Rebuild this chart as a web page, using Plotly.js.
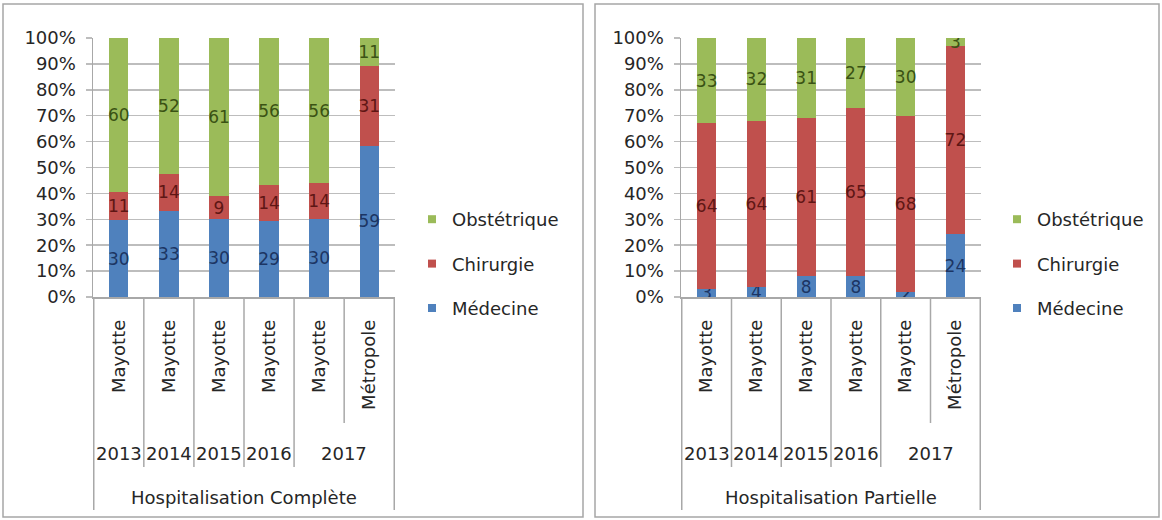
<!DOCTYPE html>
<html>
<head>
<meta charset="utf-8">
<script src="https://cdn.plot.ly/plotly-3.0.1.min.js"></script>
<style>
  html, body { margin: 0; padding: 0; background: #ffffff; }
  #chart { width: 1162px; height: 520px; }
  /* smaller square swatches in the legends */
  .legendpoints path { d: path("M4,4H-4V-4H4Z"); }
</style>
</head>
<body>
<div id="chart"></div>
<script>
// Category levels (inner: place, outer: year)
const years  = ['2013', '2014', '2015', '2016', '2017', '2017'];
const places = ['Mayotte', 'Mayotte', 'Mayotte', 'Mayotte', 'Mayotte', 'Métropole'];
const groupTitles = ['Hospitalisation Complète', 'Hospitalisation Partielle'];
const seriesNames = ['Médecine', 'Chirurgie', 'Obstétrique'];

// Hospitalisation complète (%)
const hcMedecine    = [30, 33, 30, 29, 30, 59];
const hcChirurgie   = [11, 14, 9, 14, 14, 31];
const hcObstetrique = [60, 52, 61, 56, 56, 11];

// Hospitalisation partielle (%)
const hpMedecine    = [3, 4, 8, 8, 2, 24];
const hpChirurgie   = [64, 64, 61, 65, 68, 72];
const hpObstetrique = [33, 32, 31, 27, 30, 3];

const yTickValues = [0, 10, 20, 30, 40, 50, 60, 70, 80, 90, 100];
const yTickLabels = yTickValues.map(v => v + '%');

// ---- styling ----
const FONT = 'DejaVu Sans, Liberation Sans, Arial, sans-serif';
const barColors  = ['#4f81bd', '#c0504d', '#9bbb59'];
const textColors = ['#1c3563', '#5e1614', '#3a5214'];
const gridColor = '#bdbdbd';
const lineColor = '#a8a8a8';
const W = 1162, H = 520;
const px = v => v / W;
const py = v => (H - v) / H;

const keys = years.map((y, i) => y + ' ' + places[i]);

const panels = [
  { series: [hcMedecine, hcChirurgie, hcObstetrique], xaxis: 'x',  yaxis: 'y',  legend: 'legend',  left: 93,  right: 395, legendX: 412 },
  { series: [hpMedecine, hpChirurgie, hpObstetrique], xaxis: 'x2', yaxis: 'y2', legend: 'legend2', left: 681, right: 981, legendX: 997 }
];

const traces = [];
panels.forEach((p, pi) => {
  p.series.forEach((vals, si) => {
    traces.push({
      type: 'bar',
      name: seriesNames[si],
      x: keys,
      y: vals,
      text: vals.map(String),
      textposition: 'inside',
      insidetextanchor: 'middle',
      textangle: 0,
      textfont: { family: FONT, size: 17, color: textColors[si] },
      marker: { color: barColors[si], line: { width: 0 } },
      xaxis: p.xaxis,
      yaxis: p.yaxis,
      legend: p.legend,
      legendgroup: 'g' + pi + '_' + si,
      legendrank: 10 - si,
      hoverinfo: 'skip'
    });
  });
});

const plotTop = 38, plotBottom = 297;

function xAxis(p, anchor) {
  return {
    domain: [px(p.left), px(p.right)],
    anchor: anchor,
    type: 'category',
    categoryorder: 'array',
    categoryarray: keys,
    tickvals: keys,
    ticktext: places,
    tickangle: -90,
    ticks: '',
    ticklabelstandoff: 14,
    tickfont: { family: FONT, size: 18, color: '#262626' },
    showgrid: false,
    showline: true,
    linecolor: lineColor,
    linewidth: 1.5,
    zeroline: false,
    fixedrange: true
  };
}
function yAxis(anchor) {
  return {
    domain: [py(plotBottom), py(plotTop)],
    anchor: anchor,
    range: [0, 100],
    tickmode: 'array',
    tickvals: yTickValues,
    ticktext: yTickLabels,
    ticks: 'outside',
    ticklen: 6,
    tickcolor: gridColor,
    tickwidth: 1.5,
    ticklabelstandoff: 6,
    tickfont: { family: FONT, size: 18, color: '#262626' },
    showgrid: true,
    gridcolor: gridColor,
    gridwidth: 1.5,
    showline: true,
    linecolor: lineColor,
    linewidth: 1.5,
    zeroline: false,
    fixedrange: true
  };
}

// Category dividers, year labels and group titles under each panel
const shapes = [];
const annotations = [];
const yearGroups = [];
years.forEach((y, i) => {
  const g = yearGroups.find(o => o.year === y);
  if (g) g.idx.push(i); else yearGroups.push({ year: y, idx: [i] });
});

panels.forEach((p, pi) => {
  const xr = p.xaxis;
  for (let b = 0; b <= years.length; b++) {
    let bottom;
    if (b === 0 || b === years.length) bottom = 510;        // outer group edges
    else if (years[b - 1] !== years[b]) bottom = 467;       // year boundary
    else bottom = 423;                                       // place boundary within a year
    shapes.push({
      type: 'line', xref: xr, yref: 'paper',
      x0: b - 0.5, x1: b - 0.5, y0: py(plotBottom), y1: py(bottom),
      line: { color: lineColor, width: 1.5 }
    });
  }
  yearGroups.forEach(g => {
    const centre = g.idx.reduce((a, c) => a + c, 0) / g.idx.length;
    annotations.push({
      xref: xr, yref: 'paper', x: centre, y: py(453),
      text: g.year, showarrow: false, xanchor: 'center', yanchor: 'middle',
      font: { family: FONT, size: 18, color: '#262626' }
    });
  });
  annotations.push({
    xref: xr, yref: 'paper', x: (years.length - 1) / 2, y: py(497),
    text: groupTitles[pi], showarrow: false, xanchor: 'center', yanchor: 'middle',
    font: { family: FONT, size: 18, color: '#262626' }
  });
});

// Chart area borders
[[3, 583], [595, 1159]].forEach(([a, b]) => {
  shapes.push({
    type: 'rect', xref: 'paper', yref: 'paper',
    x0: px(a), x1: px(b), y0: py(517), y1: py(4),
    line: { color: '#a6a6a6', width: 1.5 }, fillcolor: 'rgba(0,0,0,0)', layer: 'below'
  });
});

function legendCfg(p) {
  return {
    x: px(p.legendX), y: py(201), xanchor: 'left', yanchor: 'top',
    traceorder: 'grouped',
    tracegroupgap: 18,
    itemwidth: 30,
    font: { family: FONT, size: 18, color: '#262626' },
    bgcolor: 'rgba(0,0,0,0)',
    borderwidth: 0
  };
}

const layout = {
  width: W, height: H,
  margin: { l: 0, r: 0, t: 0, b: 0, pad: 0 },
  paper_bgcolor: '#ffffff',
  plot_bgcolor: '#ffffff',
  barmode: 'stack',
  barnorm: 'percent',
  bargap: 0.615,
  uniformtext: { mode: 'show', minsize: 17 },
  showlegend: true,
  xaxis: xAxis(panels[0], 'y'),
  yaxis: yAxis('x'),
  xaxis2: xAxis(panels[1], 'y2'),
  yaxis2: yAxis('x2'),
  legend: legendCfg(panels[0]),
  legend2: legendCfg(panels[1]),
  shapes: shapes,
  annotations: annotations
};

Plotly.newPlot('chart', traces, layout, { displayModeBar: false, staticPlot: true });
</script>
</body>
</html>
